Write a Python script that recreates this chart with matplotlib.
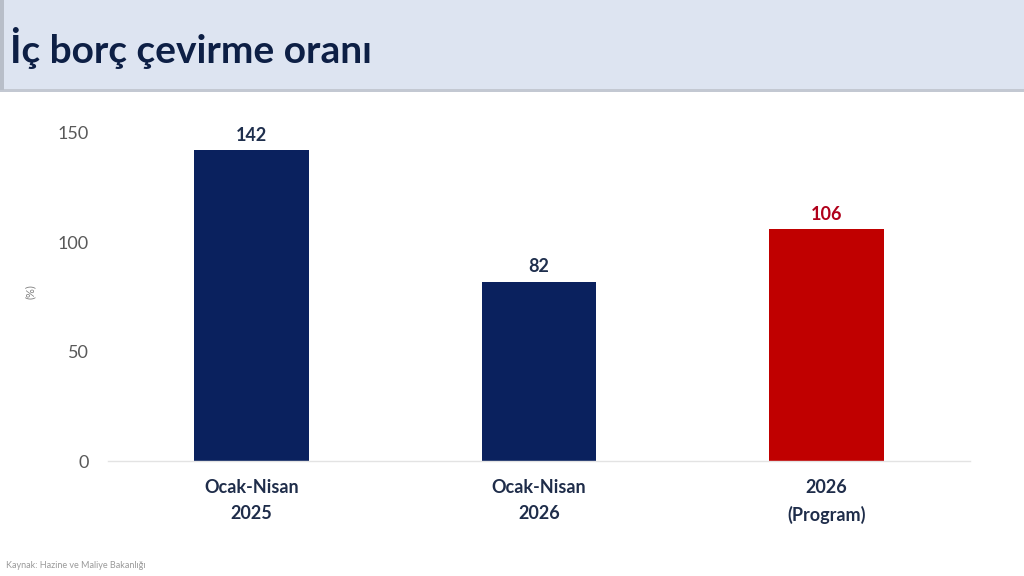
import matplotlib
matplotlib.use("Agg")
import matplotlib.pyplot as plt
from matplotlib.patches import Rectangle

categories = ["Ocak-Nisan\n2025", "Ocak-Nisan\n2026", "2026\n(Program)"]
values = [142, 82, 106]
bar_colours = ["#0a215e", "#0a215e", "#c00000"]
label_colours = ["#1f2f4d", "#1f2f4d", "#b0001a"]
yticks = [0, 50, 100, 150]

title = "İç borç çevirme oranı"
source = "Kaynak: Hazine ve Maliye Bakanlığı"

plt.rcParams["font.family"] = ["Lato", "DejaVu Sans"]

fig = plt.figure(figsize=(10.24, 5.76), dpi=100)
fig.patch.set_facecolor("white")

# title band
fig.patches.append(Rectangle((0, 1 - 90 / 576), 1, 90 / 576, transform=fig.transFigure,
                             facecolor="#dde4f1", edgecolor="none", zorder=0))
fig.patches.append(Rectangle((0, 1 - 92 / 576), 1, 3 / 576, transform=fig.transFigure,
                             facecolor="#c3c8d2", edgecolor="none", zorder=0))
fig.patches.append(Rectangle((0, 1 - 90 / 576), 4 / 1024, 90 / 576, transform=fig.transFigure,
                             facecolor="#b8bec9", edgecolor="none", zorder=0))
fig.text(10 / 1024, 1 - 48 / 576, title, fontsize=28, fontweight="bold",
         color="#0d1f45", va="center", ha="left")

ax = fig.add_axes([108 / 1024, 115 / 576, 862 / 1024, 328 / 576])
x = range(len(categories))
ax.bar(x, values, width=0.4, color=bar_colours, zorder=2)

for i, v in enumerate(values):
    ax.text(i, v + 3, str(v), ha="center", va="bottom", fontsize=13,
            fontweight="bold", color=label_colours[i])

ax.set_xlim(-0.5, 2.5)
ax.set_ylim(0, 150)
ax.set_yticks(yticks)
ax.set_xticks(list(x))
ax.set_xticklabels(categories, fontsize=13, fontweight="bold", color="#1f2d4a",
                   linespacing=1.65)
ax.tick_params(axis="x", length=0, pad=13)
ax.tick_params(axis="y", length=0, pad=14, labelsize=13, labelcolor="#595959")
for s in ["top", "right", "left"]:
    ax.spines[s].set_visible(False)
ax.spines["bottom"].set_color("#e3e3e3")
ax.spines["bottom"].set_linewidth(1)

fig.text(30 / 1024, 1 - 292 / 576, "(%)", rotation=90, fontsize=8,
         color="#7f7f7f", va="center", ha="center")
fig.text(6 / 1024, 1 - 565 / 576, source, fontsize=6.5, color="#9a9a9a",
         va="center", ha="left")

fig.savefig("out.png", dpi=100)
